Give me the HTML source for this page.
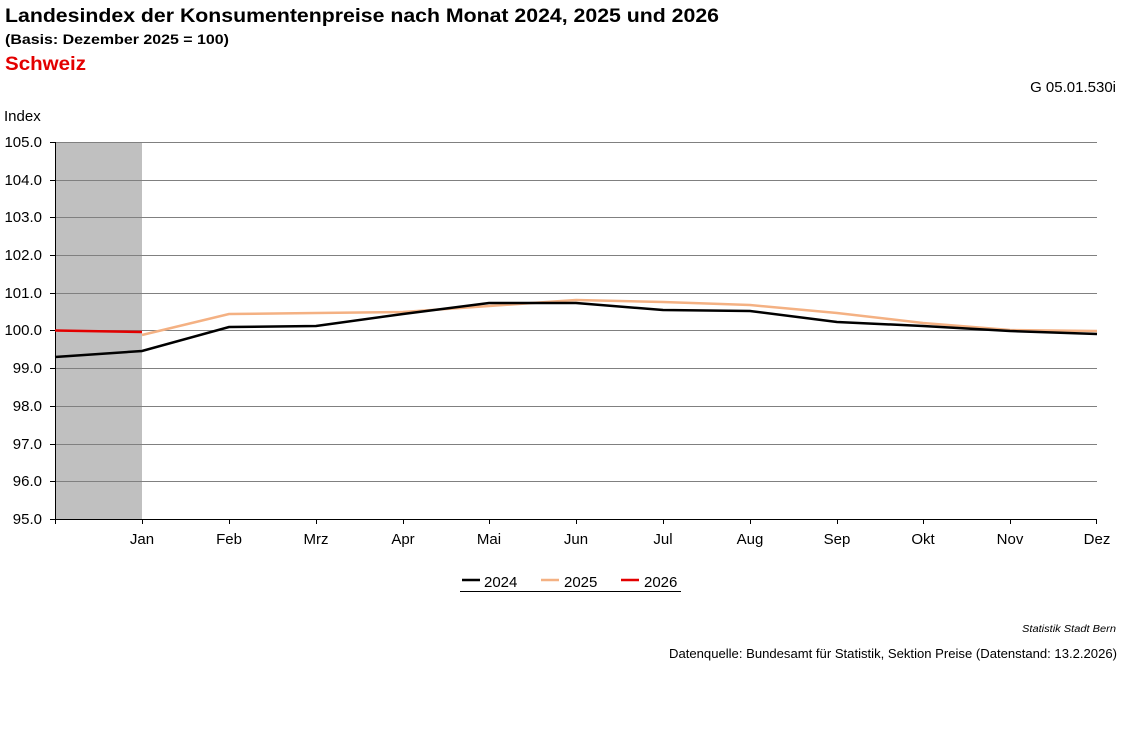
<!DOCTYPE html>
<html><head><meta charset="utf-8"><style>
body{margin:0;background:#fff;width:1127px;height:734px;overflow:hidden;font-family:"Liberation Sans",Arial,sans-serif}
</style></head><body>
<svg width="1127" height="734" xmlns="http://www.w3.org/2000/svg" font-family="Liberation Sans, Arial, sans-serif">
<text x="5" y="22" font-size="19" font-weight="bold" textLength="714" lengthAdjust="spacingAndGlyphs">Landesindex der Konsumentenpreise nach Monat 2024, 2025 und 2026</text>
<text x="5" y="44" font-size="14" font-weight="bold" textLength="224" lengthAdjust="spacingAndGlyphs">(Basis: Dezember 2025 = 100)</text>
<text x="5" y="70" font-size="19" font-weight="bold" fill="#e30000" textLength="81" lengthAdjust="spacingAndGlyphs">Schweiz</text>
<text x="1116" y="92" font-size="15" text-anchor="end">G 05.01.530i</text>
<text x="4" y="121" font-size="15">Index</text>
<rect x="55" y="142" width="87" height="377" fill="#c0c0c0"/>
<g stroke="#808080" stroke-width="1">
<line x1="55" x2="1097" y1="142.5" y2="142.5"/><line x1="55" x2="1097" y1="180.5" y2="180.5"/>
<line x1="55" x2="1097" y1="217.5" y2="217.5"/><line x1="55" x2="1097" y1="255.5" y2="255.5"/>
<line x1="55" x2="1097" y1="293.5" y2="293.5"/><line x1="55" x2="1097" y1="330.5" y2="330.5"/>
<line x1="55" x2="1097" y1="368.5" y2="368.5"/><line x1="55" x2="1097" y1="406.5" y2="406.5"/>
<line x1="55" x2="1097" y1="444.5" y2="444.5"/><line x1="55" x2="1097" y1="481.5" y2="481.5"/>
</g>
<g stroke="#000" stroke-width="1">
<line x1="55.5" x2="55.5" y1="142" y2="524"/><line x1="55" x2="1097" y1="519.5" y2="519.5"/>
<line x1="50" x2="55" y1="142.5" y2="142.5"/><line x1="50" x2="55" y1="180.5" y2="180.5"/><line x1="50" x2="55" y1="217.5" y2="217.5"/><line x1="50" x2="55" y1="255.5" y2="255.5"/><line x1="50" x2="55" y1="293.5" y2="293.5"/><line x1="50" x2="55" y1="330.5" y2="330.5"/><line x1="50" x2="55" y1="368.5" y2="368.5"/><line x1="50" x2="55" y1="406.5" y2="406.5"/><line x1="50" x2="55" y1="444.5" y2="444.5"/><line x1="50" x2="55" y1="481.5" y2="481.5"/><line x1="50" x2="55" y1="519.5" y2="519.5"/>
<line x1="142.5" x2="142.5" y1="519" y2="524"/><line x1="229.5" x2="229.5" y1="519" y2="524"/><line x1="316.5" x2="316.5" y1="519" y2="524"/><line x1="403.5" x2="403.5" y1="519" y2="524"/><line x1="489.5" x2="489.5" y1="519" y2="524"/><line x1="576.5" x2="576.5" y1="519" y2="524"/><line x1="663.5" x2="663.5" y1="519" y2="524"/><line x1="750.5" x2="750.5" y1="519" y2="524"/><line x1="837.5" x2="837.5" y1="519" y2="524"/><line x1="923.5" x2="923.5" y1="519" y2="524"/><line x1="1010.5" x2="1010.5" y1="519" y2="524"/><line x1="1096.5" x2="1096.5" y1="519" y2="524"/>
</g>
<g font-size="15" text-anchor="end">
<text x="42" y="147">105.0</text><text x="42" y="185">104.0</text><text x="42" y="222">103.0</text><text x="42" y="260">102.0</text><text x="42" y="298">101.0</text><text x="42" y="335">100.0</text><text x="42" y="373">99.0</text><text x="42" y="411">98.0</text><text x="42" y="449">97.0</text><text x="42" y="486">96.0</text><text x="42" y="524">95.0</text>
</g>
<g font-size="15" text-anchor="middle">
<text x="142" y="544">Jan</text><text x="229" y="544">Feb</text><text x="316" y="544">Mrz</text><text x="403" y="544">Apr</text><text x="489" y="544">Mai</text><text x="576" y="544">Jun</text><text x="663" y="544">Jul</text><text x="750" y="544">Aug</text><text x="837" y="544">Sep</text><text x="923" y="544">Okt</text><text x="1010" y="544">Nov</text><text x="1097" y="544">Dez</text>
</g>
<polyline fill="none" stroke="#f4b183" stroke-width="2.5" points="142,335 229,314 316,313 403,312 489,306 576,300 663,302 750,305 837,313 923,323 1010,330 1097,331"/>
<polyline fill="none" stroke="#000" stroke-width="2.5" points="55,357 142,351 229,327 316,326 403,314 489,303 576,303 663,310 750,311 837,322 923,326 1010,331 1097,334"/>
<polyline fill="none" stroke="#e30000" stroke-width="2.5" points="55,330.5 142,332"/>
<line x1="460" x2="681" y1="591.5" y2="591.5" stroke="#000"/>
<line x1="462" x2="480" y1="580" y2="580" stroke="#000" stroke-width="2.5"/>
<text x="484" y="587" font-size="15">2024</text>
<line x1="541" x2="559" y1="580" y2="580" stroke="#f4b183" stroke-width="2.5"/>
<text x="564" y="587" font-size="15">2025</text>
<line x1="621" x2="639" y1="580" y2="580" stroke="#e30000" stroke-width="2.5"/>
<text x="644" y="587" font-size="15">2026</text>
<text x="1116" y="632" font-size="10" font-style="italic" text-anchor="end" textLength="94" lengthAdjust="spacingAndGlyphs">Statistik Stadt Bern</text>
<text x="1117" y="658" font-size="13" text-anchor="end" textLength="448" lengthAdjust="spacingAndGlyphs">Datenquelle: Bundesamt für Statistik, Sektion Preise (Datenstand: 13.2.2026)</text>
</svg>
</body></html>
